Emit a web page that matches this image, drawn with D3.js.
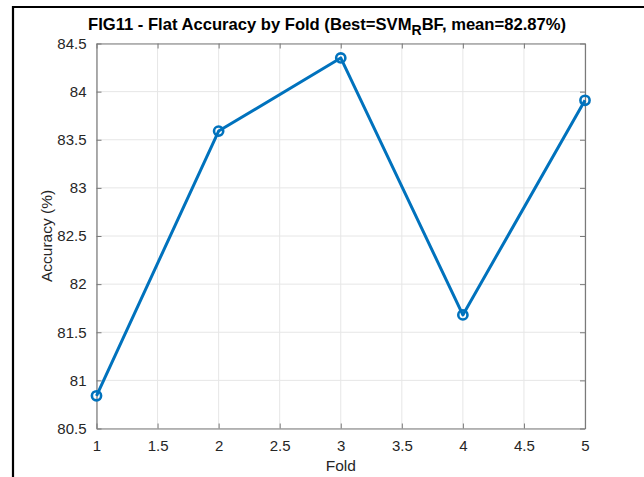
<!DOCTYPE html>
<html>
<head>
<meta charset="utf-8">
<script src="https://cdn.jsdelivr.net/npm/d3@7"></script>
<style>
  html, body { margin: 0; padding: 0; background: #fff; }
  svg { display: block; }
  text { font-family: "Liberation Sans", Arial, Helvetica, sans-serif; }
</style>
</head>
<body>
<svg id="chart" width="644" height="477"></svg>
<script>
// Per-fold accuracy of the flat classifier
const folds = [1, 2, 3, 4, 5];
const accuracy = [80.84, 83.59, 84.35, 81.68, 83.91];
const xTicks = [1, 1.5, 2, 2.5, 3, 3.5, 4, 4.5, 5];
const yTicks = [80.5, 81, 81.5, 82, 82.5, 83, 83.5, 84, 84.5];

const W = 644, H = 477;
const plot = { left: 96.5, right: 585, top: 43.5, bottom: 428.5 };

const svg = d3.select("#chart");

// Figure frame
svg.append("rect").attr("x", 0).attr("y", 0).attr("width", W).attr("height", H).attr("fill", "#fff");
svg.append("path")
  .attr("d", `M13,${H} V7 H${W}`)
  .attr("fill", "none").attr("stroke", "#000").attr("stroke-width", 2.2);

const x = d3.scaleLinear().domain([1, 5]).range([plot.left, plot.right]);
const y = d3.scaleLinear().domain([80.5, 84.5]).range([plot.bottom, plot.top]);

// Grid
const grid = svg.append("g").attr("stroke", "#e6e6e6").attr("stroke-width", 1);
grid.selectAll(".gx").data(xTicks).join("line")
  .attr("x1", d => x(d)).attr("x2", d => x(d))
  .attr("y1", plot.top).attr("y2", plot.bottom);
grid.selectAll(".gy").data(yTicks).join("line")
  .attr("x1", plot.left).attr("x2", plot.right)
  .attr("y1", d => y(d)).attr("y2", d => y(d));

// Axes (ticks point inward, box on all four sides)
const axisColor = "#7a7a7a";
const tickLen = 5;
const fmt = d => String(d);

const gB = svg.append("g").attr("transform", `translate(0,${plot.bottom})`)
  .call(d3.axisBottom(x).tickValues(xTicks).tickFormat(fmt).tickSizeInner(-tickLen).tickSizeOuter(0).tickPadding(12));
const gL = svg.append("g").attr("transform", `translate(${plot.left},0)`)
  .call(d3.axisLeft(y).tickValues(yTicks).tickFormat(fmt).tickSizeInner(-tickLen).tickSizeOuter(0).tickPadding(10));
const gT = svg.append("g").attr("transform", `translate(0,${plot.top})`)
  .call(d3.axisTop(x).tickValues(xTicks).tickFormat("").tickSizeInner(-tickLen).tickSizeOuter(0));
const gR = svg.append("g").attr("transform", `translate(${plot.right},0)`)
  .call(d3.axisRight(y).tickValues(yTicks).tickFormat("").tickSizeInner(-tickLen).tickSizeOuter(0));

[gB, gL, gT, gR].forEach(g => {
  g.select(".domain").attr("stroke", axisColor).attr("stroke-width", 1.2);
  g.selectAll(".tick line").attr("stroke", axisColor).attr("stroke-width", 1);
  g.selectAll(".tick text").attr("fill", "#262626").attr("font-size", 15)
    .attr("font-family", "'Liberation Sans', Arial, sans-serif");
});

// Series
const blue = "#0072BD";
const line = d3.line().x((d, i) => x(folds[i])).y(d => y(d));
svg.append("path").datum(accuracy)
  .attr("d", line).attr("fill", "none")
  .attr("stroke", blue).attr("stroke-width", 3).attr("stroke-linejoin", "round");
svg.selectAll(".pt").data(accuracy).join("circle")
  .attr("cx", (d, i) => x(folds[i])).attr("cy", d => y(d)).attr("r", 4.6)
  .attr("fill", "none").attr("stroke", blue).attr("stroke-width", 2.6);

// Labels
svg.append("text").attr("x", (plot.left + plot.right) / 2).attr("y", 471)
  .attr("text-anchor", "middle").attr("font-size", 15.5).attr("fill", "#262626").text("Fold");
svg.append("text")
  .attr("transform", `translate(52,${(plot.top + plot.bottom) / 2}) rotate(-90)`)
  .attr("text-anchor", "middle").attr("font-size", 15.5).attr("fill", "#262626").text("Accuracy (%)");

// Title with subscript
const title = svg.append("text").attr("x", 327).attr("y", 29.5)
  .attr("text-anchor", "middle").attr("font-size", 16.6).attr("font-weight", "bold").attr("fill", "#000");
title.append("tspan").text("FIG11 - Flat Accuracy by Fold (Best=SVM");
title.append("tspan").attr("dy", 5.5).attr("font-size", 14).text("R");
title.append("tspan").attr("dy", -5.5).text("BF, mean=82.87%)");
</script>
</body>
</html>
